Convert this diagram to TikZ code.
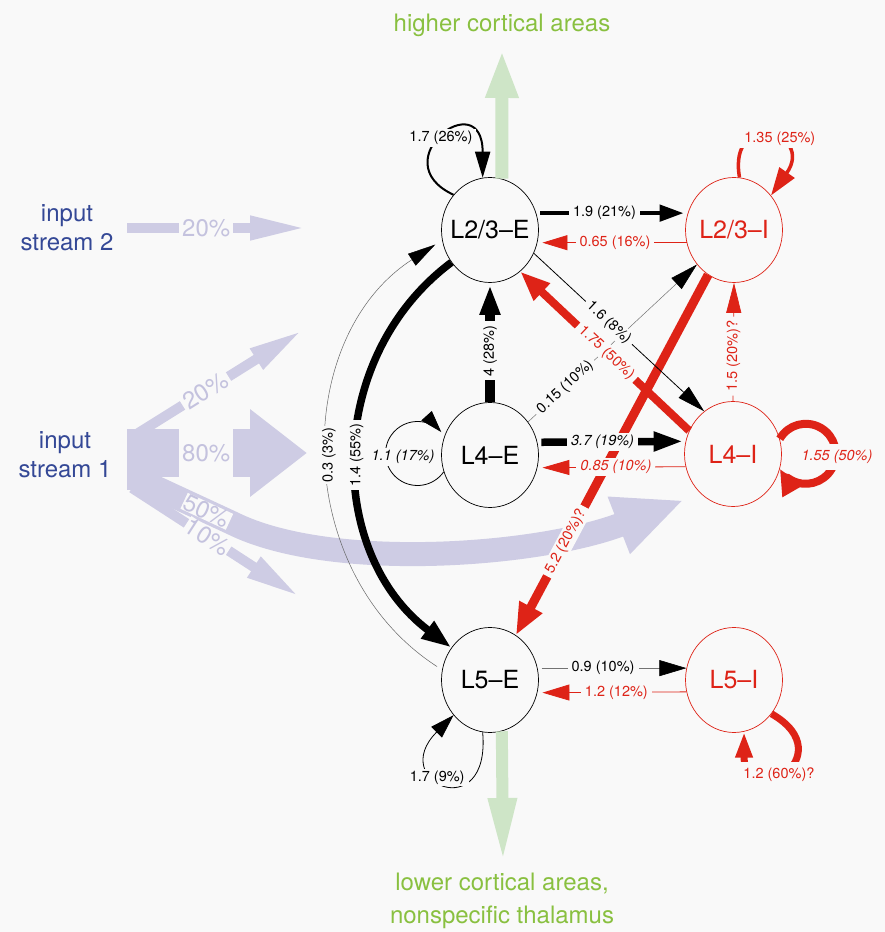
\documentclass[tikz,border=0pt]{standalone}
\usepackage{fontspec}
\setmainfont{TeX Gyre Heros}
\usetikzlibrary{arrows.meta,shapes.geometric}
\definecolor{bg}{RGB}{249,249,249}
\definecolor{myred}{RGB}{222,35,23}
\definecolor{lav}{RGB}{206,204,228}
\definecolor{lavtext}{RGB}{196,194,222}
\definecolor{ctxgreen}{RGB}{137,192,64}
\definecolor{arrgreen}{RGB}{206,229,199}
\definecolor{inblue}{RGB}{52,72,150}
\begin{document}
\begin{tikzpicture}[x=1pt,y=1pt,
  pop/.style={ellipse, line width=0.7pt, minimum width=97pt, minimum height=105pt,
    inner xsep=-6pt, inner ysep=0pt, font=\fontsize{25}{25}\selectfont},
  exc/.style={pop, draw=black, text=black},
  inh/.style={pop, draw=myred, text=myred},
  lab/.style={fill=bg, inner xsep=4pt, inner ysep=2pt, text=black, font=\fontsize{14.5}{14.5}\selectfont},
  ilab/.style={lab, font=\fontsize{14.5}{14.5}\selectfont\itshape},
  rlab/.style={lab, text=myred},
  rilab/.style={ilab, text=myred},
  pct/.style={fill=bg, inner xsep=3pt, inner ysep=0pt, text=lavtext, font=\fontsize{24}{24}\selectfont},
  inlab/.style={text=inblue, align=center, font=\fontsize{24}{29}\selectfont},
  ctx/.style={text=ctxgreen, align=center, font=\fontsize{24}{33}\selectfont},
]
\fill[bg] (0,0) rectangle (885,932);
\useasboundingbox (0,0) rectangle (885,932);

% populations
\node[exc] (L23E) at (490,702) {L2/3–E};
\node[inh] (L23I) at (734,702) {L2/3–I};
\node[exc] (L4E) at (490,477) {L4–E};
\node[inh] (L4I) at (733,478) {L4–I};
\node[exc] (L5E) at (490,252) {L5–E};
\node[inh] (L5I) at (734,252) {L5–I};

% text labels
\node[inlab] (in2) at (67,704) {input\\stream 2};
\node[inlab] (in1) at (65,477) {input\\stream 1};
\node[ctx] (higher) at (502,907) {higher cortical areas};
\node[ctx] (lower) at (502,31) {lower cortical areas,\\nonspecific thalamus};

% free ends
\coordinate (s2a) at (127,704);
\coordinate (s2b) at (307,704);
\coordinate (s1m) at (127,479);
\coordinate (s1mt) at (307,479);
\coordinate (s1u) at (132,495);
\coordinate (s1ut) at (303,602);
\coordinate (s1d) at (132,444);
\coordinate (s1dt) at (300,335);
\coordinate (s1c) at (135,454);
\coordinate (s1cb) at (232,409);
\coordinate (s1ct) at (684,432);
\coordinate (up) at (502,882);
\coordinate (down) at (503,69);

% input arrows
\fill[lav] (127,442) rectangle (152,500);
\draw[lav, line width=10pt, -{Triangle[length=57pt,width=22pt]}] (s2a) -- node[pct, pos=0.44]{20\%} (s2b);
\draw[lav, line width=48pt, -{Triangle[length=57pt,width=84pt]}] (s1m) -- node[pct, pos=0.44, minimum height=50pt]{80\%} (s1mt);
\draw[lav, line width=10pt, -{Triangle[length=55pt,width=22pt]}] (s1u) -- node[pct, sloped, pos=0.43]{20\%} (s1ut);
\draw[lav, line width=24pt, -{Triangle[length=70pt,width=56pt]}] (s1c) -- node[pct, sloped, pos=0.74, inner xsep=1pt]{50\%} (s1cb) .. controls (330,360) and (540,376) .. (s1ct);
\draw[lav, line width=10pt, -{Triangle[length=55pt,width=22pt]}] (s1d) -- node[pct, sloped, pos=0.45, inner xsep=1pt]{10\%} (s1dt);

% outputs
\draw[arrgreen, line width=13pt, -{Triangle[length=48pt,width=30pt]}] (L23E.77) -- (up);
\draw[arrgreen, line width=12pt, -{Triangle[length=65pt,width=26pt]}] (L5E.-77) -- (down);

% diagonal connectors
\draw[black!55, line width=0.5pt, -{Triangle[length=28pt,width=15pt,color=black]}] (L4E.41) -- node[lab, sloped, pos=0.22]{0.15 (10\%)} (L23I.-137);
\draw[myred, line width=9pt, -{Triangle[length=32pt,width=24pt]}] (L23I.-120) -- node[rlab, sloped, pos=0.74]{5.2 (20\%)?} (L5E.60);
\draw[myred, line width=8pt, -{Triangle[length=30pt,width=22pt]}] (L4I.152) -- node[rlab, sloped, pos=0.49]{1.75 (50\%)} (L23E.-54);
\draw[line width=0.8pt, -{Triangle[length=28pt,width=15pt]}] (L23E.-28) -- node[lab, sloped, pos=0.44]{1.6 (8\%)} (L4I.124);

% horizontal connectors
\draw[line width=4.5pt, -{Triangle[length=24pt,width=16pt]}, shorten <=4pt, shorten >=4pt] (L23E.20) -- node[lab, pos=0.45]{1.9 (21\%)} (L23I.160);
\draw[myred, line width=0.8pt, -{Triangle[length=25pt,width=15pt]}, shorten >=5pt] (L23I.195) -- node[rlab, pos=0.48]{0.65 (16\%)} (L23E.-15);
\draw[line width=7.5pt, -{Triangle[length=30pt,width=18pt]}, shorten <=4pt, shorten >=2pt] (L4E.15) -- node[ilab, pos=0.44]{3.7 (19\%)} (L4I.165);
\draw[myred, line width=0.8pt, -{Triangle[length=27pt,width=15pt]}, shorten >=5pt] (L4I.195) -- node[rilab, pos=0.47]{0.85 (10\%)} (L4E.-15);
\draw[black!55, line width=0.6pt, -{Triangle[length=27pt,width=16pt,color=black]}, shorten <=4pt] (L5E.14) -- node[lab, pos=0.44]{0.9 (10\%)} (L5I.166);
\draw[myred, line width=0.8pt, -{Triangle[length=27pt,width=16pt]}, shorten >=5pt] (L5I.194) -- node[rlab, pos=0.47]{1.2 (12\%)} (L5E.-15);

% vertical connectors
\draw[line width=10pt, -{Triangle[length=30pt,width=19pt]}, shorten >=2pt] (L4E.north) -- node[lab, sloped, pos=0.43]{4 (28\%)} (L23E.south);
\draw[myred, line width=0.7pt, -{Triangle[length=30pt,width=15pt]}] (L4I.north) -- node[rlab, sloped, pos=0.38]{1.5 (20\%)?} (L23I.south);

% long curves
\draw[line width=7.5pt, -{Triangle[length=30pt,width=20pt]}] (L23E.220) .. controls (325,575) and (325,379) .. node[lab, rotate=90, pos=0.5]{1.4 (55\%)} (L5E.140);
\draw[black!60, line width=0.5pt, -{Triangle[length=28pt,width=14pt,color=black]}, shorten <=6pt, shorten >=8pt] (L5E.168) .. controls (291,360) and (291,594) .. node[lab, rotate=90, pos=0.5, inner xsep=2pt]{0.3 (3\%)} (L23E.192);

% self loops
\draw[line width=2pt, -{Triangle[length=26pt,width=15pt]}] (L23E.136) .. controls +(155:80) and +(90:95) .. node[lab, pos=0.5]{1.7 (26\%)} (L23E.98);
\draw[myred, line width=3.5pt, -{Triangle[length=28pt,width=18pt]}] (L23I.84) .. controls +(100:70) and +(55:78) .. node[rlab, pos=0.55, xshift=8pt]{1.35 (25\%)} (L23I.43);
\draw[line width=0.8pt, -{Triangle[length=22pt,width=14pt]}] (L4E.200) arc[start angle=-35, end angle=-318, radius=32];
\node[ilab] (l11) at (403,475) {1.1 (17\%)};
\draw[myred, line width=8pt, -{Triangle[length=26pt,width=22pt]}] (L4I.18) arc[start angle=150, end angle=-150, radius=30];
\node[rilab, inner ysep=6pt] (l155) at (837,475) {1.55 (50\%)};
\draw[line width=0.8pt, -{Triangle[length=24pt,width=15pt]}] (L5E.-98) .. controls +(-85:95) and +(-135:95) .. node[lab, pos=0.6]{1.7 (9\%)} (L5E.-136);
\draw[myred, line width=7pt, -{Triangle[length=26pt,width=16pt]}] (L5I.-42) .. controls +(-30:85) and +(-90:85) .. node[rlab, pos=0.6, inner ysep=5pt, xshift=4pt]{1.2 (60\%)?} (L5I.-79);
\end{tikzpicture}
\end{document}
